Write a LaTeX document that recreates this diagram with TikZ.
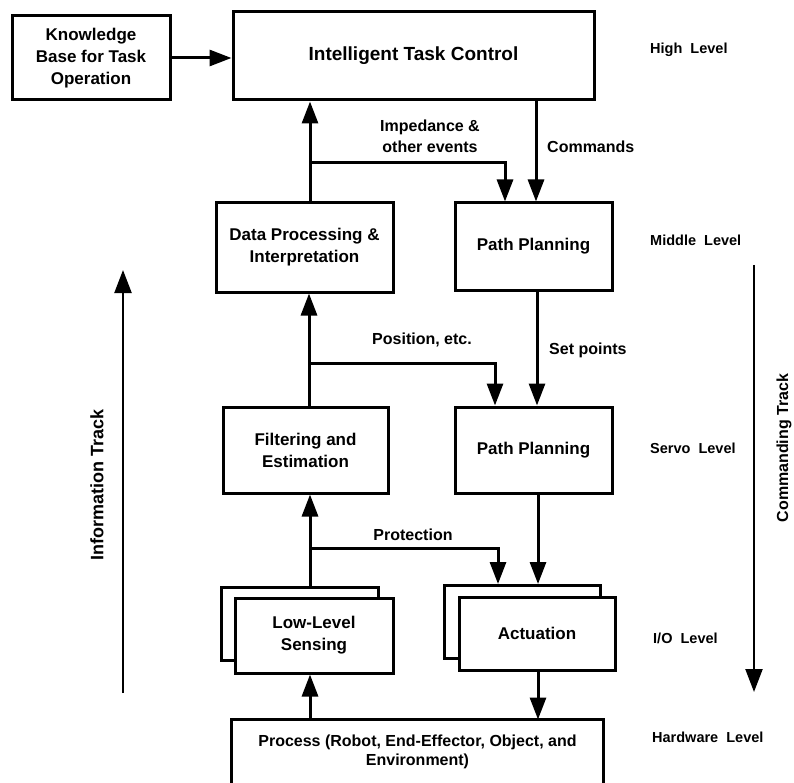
\documentclass[tikz,border=0pt]{standalone}
\usepackage{fontspec}
\setmainfont{Liberation Sans}
\usetikzlibrary{arrows.meta,calc}
\begin{document}
\begin{tikzpicture}[x=1pt,y=-1pt,
 box/.style={draw,line width=3pt,fill=white,align=center,font=\fontsize{17}{22}\selectfont\bfseries,inner sep=0pt,line join=miter},
 conn/.style={line width=3pt,-{Triangle[length=22pt,width=16pt]}},
 plain/.style={line width=3pt},
 lbl/.style={font=\fontsize{16}{21}\selectfont\bfseries,align=center,inner sep=0pt},
 lvl/.style={font=\fontsize{14.5}{17}\selectfont\bfseries,anchor=west,inner sep=0pt},
 track/.style={line width=2.2pt,-{Triangle[length=23pt,width=17pt]}},
 tracklbl/.style={rotate=90,inner sep=0pt}]
\useasboundingbox (0,0) rectangle (794,783);

% boxes
\node[box,minimum width=158pt,minimum height=84pt] (kb) at (91,58) {Knowledge\\Base for Task\\Operation};
\node[box,minimum width=361pt,minimum height=88pt,font=\fontsize{19}{22}\selectfont\bfseries] (itc) at (413.5,56) {Intelligent Task Control};
\node[box,minimum width=157pt,minimum height=87pt] (pp1) at (533.5,246.5) {Path Planning};
\node[box,minimum width=177pt,minimum height=89pt] (dp) at (304.5,247.5) {Data Processing \&\\Interpretation};
\node[box,minimum width=165pt,minimum height=86pt] (fe) at (305.5,450) {Filtering and\\Estimation};
\node[box,minimum width=157pt,minimum height=86pt] (pp2) at (533.5,450) {Path Planning};
\node[box,minimum width=157pt,minimum height=73pt] (llsb) at (300,624) {};
\node[box,minimum width=158pt,minimum height=75pt] (lls) at (314,635.5) {Low-Level\\Sensing};
\node[box,minimum width=156pt,minimum height=73pt] (actb) at (522,622) {};
\node[box,minimum width=156pt,minimum height=73pt] (act) at (537,633.5) {Actuation};
\node[box,draw=none,fill=none,minimum width=369pt,minimum height=62pt,font=\fontsize{16}{19}\selectfont\bfseries] (proc) at (417.5,752) {Process (Robot, End-Effector, Object, and\\Environment)};
\draw[plain] (proc.south west) |- (proc.north east) -- (proc.south east);

% branch points
\coordinate (b1) at (310,163);
\coordinate (b2) at (309,363);
\coordinate (b3) at (310,548);

% connectors
\draw[conn] (kb.east) -- (kb.east -| itc.west);
\draw[conn] (dp.north -| b1) -- (itc.south -| b1);
\draw[conn] (b1) -| ([xshift=-28.5pt]pp1.north);
\draw[conn] ([xshift=2.5pt]pp1.north |- itc.south) -- ([xshift=2.5pt]pp1.north);
\draw[conn] (fe.north -| b2) -- (dp.south -| b2);
\draw[conn] (b2) -| ([xshift=-38.5pt]pp2.north);
\draw[conn] ([xshift=3.5pt]pp1.south) -- ([xshift=3.5pt]pp2.north);
\draw[conn] (llsb.north -| b3) -- (fe.south -| b3);
\draw[conn] (b3) -| ([xshift=-24pt]actb.north);
\draw[conn] ([xshift=4.5pt]pp2.south) -- ([xshift=4.5pt]pp2.south |- actb.north);
\draw[conn] (proc.north -| b3) -- (lls.south -| b3);
\draw[conn] ([xshift=1pt]act.south) -- ([xshift=1pt]act.south |- proc.north);

% connector labels
\node[lbl] (imp) at (430,136) {Impedance \&\\other events};
\node[lbl,anchor=west] (cmd) at (547,147) {Commands};
\node[lbl] (pos) at (422,340) {Position, etc.};
\node[lbl,anchor=west] (setp) at (549,350) {Set points};
\node[lbl] (prot) at (413,535) {Protection};

% level labels
\node[lvl] (l1) at (650,50) {High\ \ Level};
\node[lvl] (l2) at (650,240) {Middle\ \ Level};
\node[lvl] (l3) at (650,448) {Servo\ \ Level};
\node[lvl] (l4) at (653,638) {I/O\ \ Level};
\node[lvl] (l5) at (652,737) {Hardware\ \ Level};

% tracks
\coordinate (it1) at (123,693);
\coordinate (it2) at (123,270);
\draw[track] (it1) -- (it2);
\node[tracklbl,font=\fontsize{18}{20}\selectfont\bfseries] (itl) at (97,485) {Information Track};
\coordinate (ct1) at (754,265);
\coordinate (ct2) at (754,692);
\draw[track] (ct1) -- (ct2);
\node[tracklbl,font=\fontsize{16}{20}\selectfont\bfseries] (ctl) at (784,448) {Commanding Track};
\end{tikzpicture}
\end{document}
